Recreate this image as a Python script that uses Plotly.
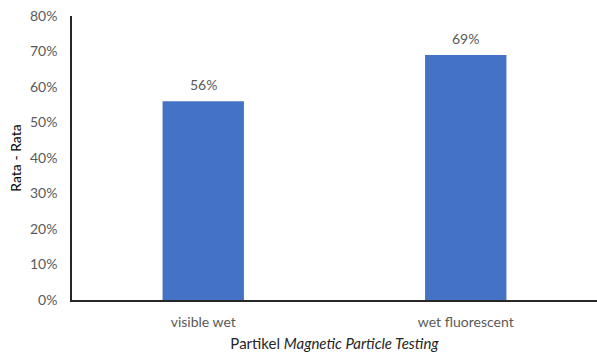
import plotly.graph_objects as go

categories = ["visible wet", "wet fluorescent"]
values = [0.56, 0.69]
tick_vals = [0, 0.1, 0.2, 0.3, 0.4, 0.5, 0.6, 0.7, 0.8]
tick_text = ["0%", "10%", "20%", "30%", "40%", "50%", "60%", "70%", "80%"]

font_family = "Lato, Open Sans, sans-serif"
gray = "#595959"

fig = go.Figure(
    go.Bar(
        x=categories,
        y=values,
        width=0.31,
        marker=dict(color="#4472C4", line=dict(width=0)),
        hoverinfo="x+y",
    )
)

# value labels floating above each bar
for cat, v in zip(categories, values):
    fig.add_annotation(
        x=cat,
        y=v,
        text=f"{v:.0%}",
        showarrow=False,
        yanchor="middle",
        yshift=17,
        font=dict(size=14, color=gray, family=font_family),
    )

fig.update_layout(
    width=597,
    height=358,
    margin=dict(l=72, r=0, t=16, b=58),
    paper_bgcolor="white",
    plot_bgcolor="white",
    showlegend=False,
    font=dict(family=font_family),
    xaxis=dict(
        showline=True,
        linecolor="#262626",
        linewidth=1.5,
        ticks="",
        ticklabelstandoff=8,
        tickfont=dict(size=14, color=gray),
        title=dict(
            text="Partikel <i>Magnetic Particle Testing</i>",
            font=dict(size=15, color="#262626"),
            standoff=10,
        ),
    ),
    yaxis=dict(
        range=[0, 0.8],
        tickvals=tick_vals,
        ticktext=tick_text,
        showgrid=False,
        zeroline=False,
        showline=True,
        linecolor="#262626",
        linewidth=1.5,
        ticks="",
        ticklabelstandoff=10,
        tickfont=dict(size=14, color=gray),
        title=dict(text="Rata - Rata", font=dict(size=14, color="black"), standoff=5),
    ),
)

fig.write_html("out.html")
